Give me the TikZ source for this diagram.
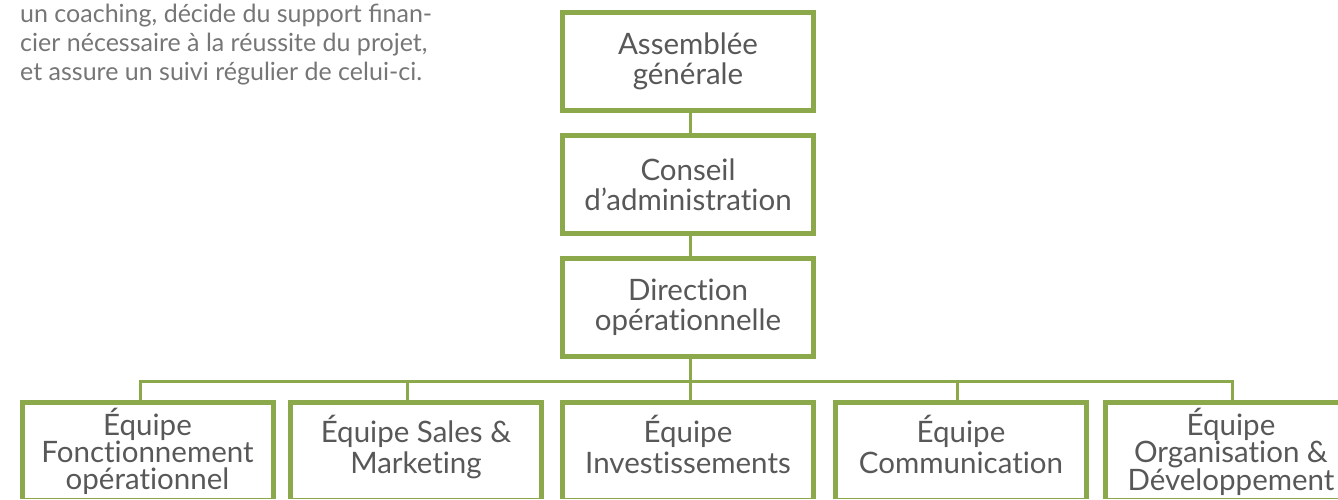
\documentclass[tikz,border=0pt]{standalone}
\usepackage{fontspec}
\setmainfont{Lato}
\newfontfamily\boitefont{Lato}[Ligatures=NoCommon]
\usepackage{tikz}
\usetikzlibrary{positioning}

\definecolor{vert}{RGB}{139,168,74}
\definecolor{gristexte}{RGB}{88,88,88}
\definecolor{grispara}{RGB}{118,118,118}

\tikzset{
  boite/.style={draw=vert, line width=5pt, fill=white, minimum width=251pt,
    minimum height=98pt, inner sep=0pt, align=center, text=gristexte,
    font=\boitefont\fontsize{29.5}{30}\selectfont},
  boitebas/.style={boite, font=\boitefont\fontsize{29.5}{31}\selectfont, text depth=14pt},
  boiteserree/.style={boite, font=\boitefont\fontsize{29.5}{27}\selectfont},
  lien/.style={draw=vert, line width=3pt}
}

\begin{document}
\begin{tikzpicture}[x=1pt, y=-1pt]
                \useasboundingbox (0,0) rectangle (1338,500);
                \clip (0,0) rectangle (1338,498);

                % texte d'introduction
                \node[anchor=north west, align=left, inner sep=0pt, text=grispara,
                    font=\fontsize{25}{29}\selectfont] (intro) at (20,4)
                    {un coaching, décide du support finan-\\cier nécessaire à la réussite du projet,\\et assure un suivi régulier de celui-ci.};

                % organigramme
                \node[boite] (ag) at (688,61.5) {Assemblée\\générale};
                \node[boite, below=20pt of ag] (ca) {Conseil\\d’administration};
                \node[boite, below=20pt of ca] (dir) {Direction\\opérationnelle};

                \node[boiteserree] (eqfo) at (147.5,451.5) {Équipe\\Fonctionnement\\opérationnel};
                \node[boitebas] (eqsm) at (416,451.5) {Équipe Sales \&\\Marketing};
                \node[boitebas] (eqinv) at (688,451.5) {Équipe\\Investissements};
                \node[boitebas] (eqcom) at (961,451.5) {Équipe\\Communication};
                \node[boiteserree] (eqod) at (1231,451.5) {Équipe\\Organisation \&\\Développement};

                \coordinate (bus) at (690,381);
                \draw[lien] ([xshift=2pt]ag.south) -- ([xshift=2pt]ca.north);
                \draw[lien] ([xshift=2pt]ca.south) -- ([xshift=2pt]dir.north);
                \draw[lien] ([xshift=2pt]dir.south) -- (bus);
                \foreach \eq/\dx in {eqfo/-7.5, eqsm/-9, eqinv/2, eqcom/-4, eqod/1}
                    \draw[lien] (bus) -| ([xshift=\dx pt]\eq.north);
            \end{tikzpicture}
\end{document}
